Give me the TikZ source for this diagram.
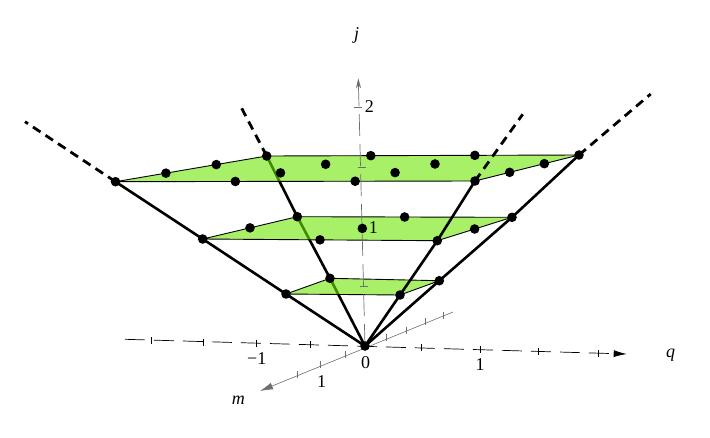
\documentclass[tikz,border=0pt]{standalone}
\usepackage{fontspec}
\setmainfont{Liberation Serif}
\usetikzlibrary{calc,arrows.meta}
\definecolor{leaf}{RGB}{110,230,3}
\definecolor{axisgray}{RGB}{110,110,110}
\tikzset{
  cone/.style={line width=2.6pt},
  ext/.style={line width=2.8pt,dash pattern=on 9pt off 6pt},
  plane/.style={fill=leaf,fill opacity=0.6,draw=black,line width=0.9pt},
  lab/.style={font=\fontsize{18}{21}\selectfont,inner sep=0pt}
}
\begin{document}
\begin{tikzpicture}[x=1pt,y=-1pt]
  \useasboundingbox (0,0) rectangle (710,437);
  % origin and the corners of the three layers
  \coordinate (O) at (365,346);
  \coordinate (a1) at (286,294);
  \coordinate (a2) at (330,278.3);
  \coordinate (a3) at (439.3,280.7);
  \coordinate (a4) at (400,295);
  \coordinate (b1) at (202.7,239);
  \coordinate (b2) at (297.3,216.7);
  \coordinate (b3) at (512,217.3);
  \coordinate (b4) at (437.3,240.7);
  \coordinate (c1) at (115.5,181.7);
  \coordinate (c2) at (266.7,156);
  \coordinate (c3) at (579,155);
  \coordinate (c4) at (475,181);
  \coordinate (e1) at (25,121.7);
  \coordinate (e2) at (241.7,108.3);
  \coordinate (e3) at (650.7,94);
  \coordinate (e4) at (522.7,114.3);
  \coordinate (qend) at (626.7,354);
  \coordinate (mend) at (260,391);
  \coordinate (jend) at (358.3,78.3);

  % q axis
  \draw [line width=0.7pt,dash pattern=on 20pt off 9pt,-{Latex[length=13pt,width=7pt]}]
    (125,339.3) -- (qend);
  \foreach \x/\y in {151.7/340.7,203.3/342.3,256.7/343.3,310.7/344.6,
                     421.7/347.7,480/349.3,538.3/351.7,598.3/353.3}
    \draw [line width=0.7pt] (\x,\y-3.5) -- (\x,\y+3.5);
  % m axis
  \draw [axisgray,line width=0.6pt,-{Latex[length=13pt,width=7pt]}]
    (453,312) -- (mend);
  \foreach \x/\y in {345/354.3,320.7/364.3,297.7/374.3,386.7/337.3,
                     406/330,425/321.7,443.7/315.4}
    \draw [axisgray,line width=0.6pt] (\x,\y-3.5) -- (\x,\y+3.5);

  % line behind the layers
  \draw [cone] (O) -- (a2) -- (b2) -- (c2);

  % layers
  \draw [plane] (a1) -- (a2) -- (a3) -- (a4) -- cycle;
  \draw [plane] (b1) -- (b2) -- (b3) -- (b4) -- cycle;
  \draw [plane] (c1) -- (c2) -- (c3) -- (c4) -- cycle;

  % j axis
  \draw [axisgray,line width=0.7pt,dash pattern=on 22pt off 8pt,
         -{Stealth[length=10pt,width=5pt]}]
    (O) -- (jend);
  \foreach \x/\y in {364/286,362.3/227.7,361.5/167,358.3/107.3}
    \draw [axisgray,line width=0.7pt] (\x-4,\y) -- (\x+4,\y);

  % the other lines
  \draw [cone] (O) -- (a1) -- (b1) -- (c1);
  \draw [cone] (O) -- (a3) -- (b3) -- (c3);
  \draw [cone] (O) -- (a4) -- (b4) -- (c4);
  \draw [ext] (c1) -- (e1);
  \draw [ext] (c2) -- (e2);
  \draw [ext] (c3) -- (e3);
  \draw [ext] (c4) -- (e4);

  % points
  \fill (O) circle (4.8pt);
  \foreach \c in {a1,a2,a3,a4}
    \fill (\c) circle (4.8pt);
  \foreach \i in {0,1,2}
    \foreach \k in {0,1,2}
      \fill ($($(b1)!\i/2!(b4)$)!\k/2!($(b2)!\i/2!(b3)$)$) circle (4.8pt);
  \foreach \i in {0,...,3}
    \foreach \k in {0,...,3}
      \fill ($($(c1)!\i/3!(c4)$)!\k/3!($(c2)!\i/3!(c3)$)$) circle (4.8pt);

  % labels
  \node [lab] (jlab) at (356.7,35) {\itshape j};
  \node [lab] (j2) at (369.3,107) {2};
  \node [lab] (j1) at (373.3,227.7) {1};
  \node [lab] (qlab) at (670.7,355) {\itshape q};
  \node [lab] (mlab) at (238.3,400) {\itshape m};
  \node [lab] (qm1) at (256.7,358.3) {−1};
  \node [lab] (zero) at (365.7,362.7) {0};
  \node [lab] (q1) at (480,365) {1};
  \node [lab] (m1) at (321.7,381.7) {1};
\end{tikzpicture}
\end{document}
